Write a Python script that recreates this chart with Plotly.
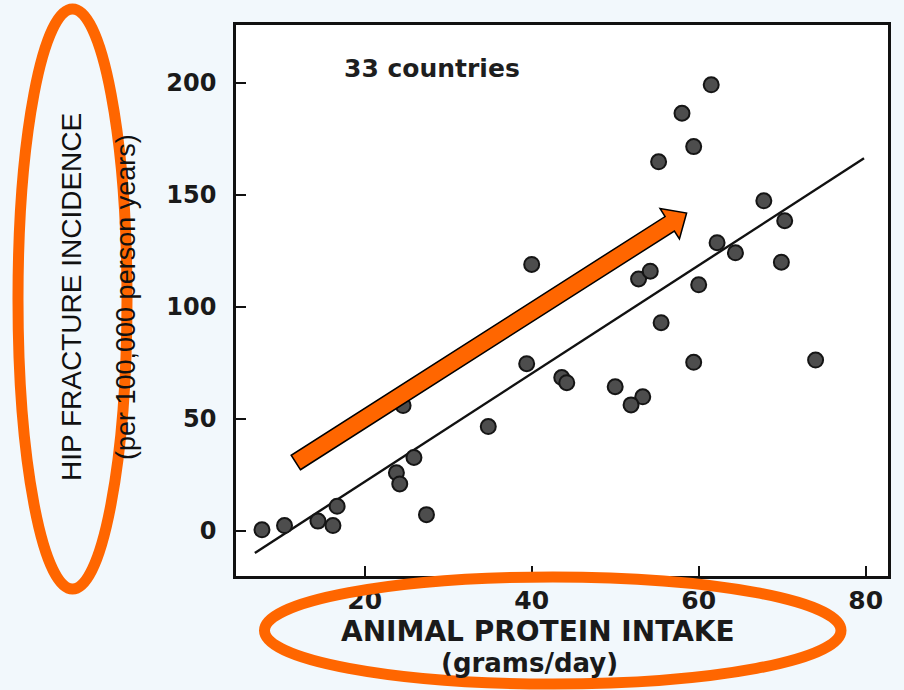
import numpy as np
import plotly.graph_objects as go

# ---------------- data ----------------
protein = [7.7, 10.4, 14.4, 16.2, 16.7, 23.8, 24.2, 25.9, 27.4, 24.6,
           34.8, 39.4, 40.0, 43.6, 44.2, 50.0, 53.3, 51.9, 52.8, 54.2,
           55.2, 55.5, 58.0, 59.4, 61.5, 59.4, 60.0, 62.2, 64.4, 67.8,
           70.3, 69.9, 74.0]
hip_fracture = [0.5, 2.4, 4.4, 2.4, 11.0, 26.0, 21.0, 32.8, 7.3, 56.0,
                46.6, 74.7, 119.0, 68.5, 66.2, 64.4, 59.9, 56.3, 112.5, 116.0,
                164.8, 93.0, 186.5, 171.6, 199.2, 75.3, 109.9, 128.7, 124.2, 147.4,
                138.5, 120.0, 76.3]
trend_x = [6.85, 79.8]
trend_y = [-9.8, 166.4]
x_ticks = [20, 40, 60, 80]
y_ticks = [0, 50, 100, 150, 200]
note_text = "33 countries"
x_title = "ANIMAL PROTEIN INTAKE"
x_subtitle = "(grams/day)"
y_title = "HIP FRACTURE INCIDENCE"
y_subtitle = "(per 100,000 person years)"

# ---------------- layout geometry ----------------
W, H = 904, 690
L, R, T, B = 236, 888, 25, 576          # plot area in pixels
PW, PH = R - L, B - T
X_RANGE = [4.59, 82.67]
Y_RANGE = [-20.1, 225.9]
ORANGE = "#FF6600"


def px2paper(px, py):
    return (px - L) / PW, (B - py) / PH


fig = go.Figure()

fig.add_trace(go.Scatter(
    x=trend_x, y=trend_y, mode="lines",
    line=dict(color="#111111", width=2.4), hoverinfo="skip", showlegend=False))

fig.add_trace(go.Scatter(
    x=protein, y=hip_fracture, mode="markers",
    marker=dict(symbol="circle", size=15, color="#4d4d4d",
                line=dict(color="#151515", width=2)),
    showlegend=False))

# ---------------- orange annotations (ellipses + arrow) ----------------
shapes = []
ex0, ey0 = px2paper(18, 589)
ex1, ey1 = px2paper(127, 9)
shapes.append(dict(type="circle", xref="paper", yref="paper",
                   x0=ex0, y0=ey0, x1=ex1, y1=ey1,
                   line=dict(color=ORANGE, width=11), layer="above"))
bx0, by0 = px2paper(264.5, 684)
bx1, by1 = px2paper(841, 577)
shapes.append(dict(type="circle", xref="paper", yref="paper",
                   x0=bx0, y0=by0, x1=bx1, y1=by1,
                   line=dict(color=ORANGE, width=11), layer="above"))

tail = np.array([295.8, 462.5])
tip = np.array([686.6, 213.0])
u = (tip - tail) / np.linalg.norm(tip - tail)
n = np.array([-u[1], u[0]])
hw, HW, HL = 8.6, 18.0, 20.0
base = tip - HL * u
pts = [tail + hw * n, base + hw * n, base + HW * n, tip,
       base - HW * n, base - hw * n, tail - hw * n]
path = ""
for i, p in enumerate(pts):
    qx, qy = px2paper(p[0], p[1])
    path += ("M" if i == 0 else "L") + f"{qx:.5f},{qy:.5f} "
path += "Z"
shapes.append(dict(type="path", xref="paper", yref="paper", path=path,
                   fillcolor=ORANGE, line=dict(color="#000000", width=1.5),
                   layer="above"))

# ---------------- text ----------------
annotations = [
    dict(x=17.3, y=206.5, xref="x", yref="y", text=note_text, showarrow=False,
         xanchor="left", yanchor="middle",
         font=dict(family="DejaVu Sans", size=25, color="#1e1e1e", weight="bold")),
]
tx, ty = px2paper(538, 631)
annotations.append(dict(x=tx, y=ty, xref="paper", yref="paper", text=x_title,
                        showarrow=False, xanchor="center", yanchor="middle",
                        font=dict(family="DejaVu Sans", size=28, color="#1a1a1a",
                                  weight="bold")))
tx, ty = px2paper(529, 663)
annotations.append(dict(x=tx, y=ty, xref="paper", yref="paper", text=x_subtitle,
                        showarrow=False, xanchor="center", yanchor="middle",
                        font=dict(family="DejaVu Sans", size=26, color="#1a1a1a",
                                  weight="bold")))
tx, ty = px2paper(71, 297)
annotations.append(dict(x=tx, y=ty, xref="paper", yref="paper", text=y_title,
                        showarrow=False, xanchor="center", yanchor="middle",
                        textangle=-90,
                        font=dict(family="Liberation Sans", size=28, color="#111111")))
tx, ty = px2paper(126, 297)
annotations.append(dict(x=tx, y=ty, xref="paper", yref="paper", text=y_subtitle,
                        showarrow=False, xanchor="center", yanchor="middle",
                        textangle=-90,
                        font=dict(family="Liberation Sans", size=27, color="#111111")))

fig.update_layout(
    width=W, height=H,
    margin=dict(l=L, r=W - R, t=T, b=H - B),
    paper_bgcolor="#F2F8FC", plot_bgcolor="#FFFFFF",
    shapes=shapes, annotations=annotations, showlegend=False,
    xaxis=dict(range=X_RANGE, tickvals=x_ticks, ticks="inside", ticklen=10,
               tickwidth=2, tickcolor="#111", showgrid=False, zeroline=False,
               showline=True, linecolor="#111", linewidth=2.5, mirror=True,
               ticklabelstandoff=0,
               tickfont=dict(family="DejaVu Sans", size=25, color="#1a1a1a",
                             weight="bold")),
    yaxis=dict(range=Y_RANGE, tickvals=y_ticks, ticks="inside", ticklen=10,
               tickwidth=2, tickcolor="#111", showgrid=False, zeroline=False,
               showline=True, linecolor="#111", linewidth=2.5, mirror=True,
               ticklabelstandoff=12,
               tickfont=dict(family="DejaVu Sans", size=24, color="#1a1a1a",
                             weight="bold")),
)

fig.write_html("out.html",
               config={"displayModeBar": False},
               post_script="document.body.style.margin='0';"
                           "document.body.style.padding='0';")
